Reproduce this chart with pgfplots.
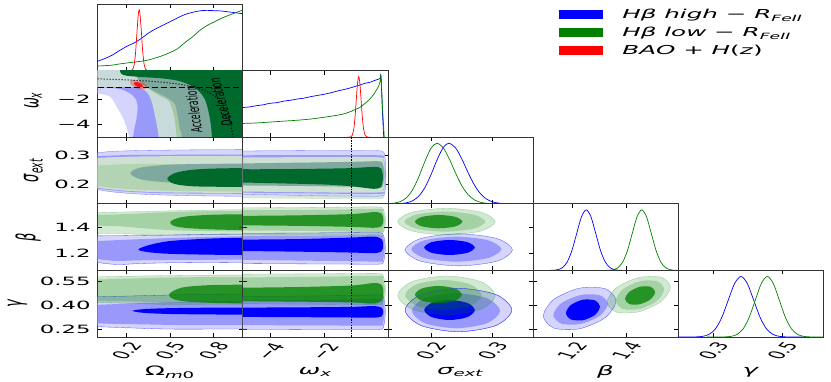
\documentclass[border=0pt]{standalone}
\usepackage{fontspec}
\setmainfont{DejaVu Sans}[ItalicFont={DejaVu Sans Oblique}]
\usepackage{graphicx}
\usepackage{pgfplots}
\pgfplotsset{compat=1.18}
\definecolor{lav}{RGB}{212,212,252}
\definecolor{medb}{RGB}{153,153,252}
\definecolor{bfull}{RGB}{0,0,255}
\definecolor{gbase}{RGB}{0,128,0}
\definecolor{palegb}{RGB}{200,218,218}
\definecolor{palegg}{RGB}{205,224,210}
\definecolor{paleg}{RGB}{178,212,178}
\definecolor{paleg2}{RGB}{212,234,212}
\definecolor{lightg}{RGB}{165,200,165}
\definecolor{tealg}{RGB}{127,168,158}
\definecolor{dkg}{RGB}{0,106,44}
\newcommand\tkf{\fontsize{11.4}{12}\selectfont}
\newcommand\lbf{\fontsize{13}{14}\selectfont\itshape}
\newcommand\lgf{\fontsize{12.3}{14}\selectfont}
\pgfplotsset{
  panel/.style={scale only axis, width=145.05pt, height=66.6pt, anchor=south west,
    axis line style={black!80, line width=0.6pt}, tick align=inside, major tick length=4pt,
    tick style={black, line width=0.5pt}, xticklabels={}, yticklabels={},
    tick label style={font=\tkf}},
  marg/.style={ymin=0, ymax=1.1, ytick=\empty},
  botrow/.style={xticklabel style={xscale=2, rotate=60, anchor=center}, xticklabel shift=14pt},
  leftcol/.style={yticklabel style={xscale=2}},
  xlab/.style={every axis x label/.style={at={(axis description cs:0.5,-0.525)}, anchor=center, xscale=2, font=\lbf}, xlabel={#1}},
  ylab/.style n args={3}{every axis y label/.style={at={(axis description cs:#1,#2)}, anchor=center, xscale=2, rotate=90, font=\lbf}, ylabel={#3}},
  bo/.style={draw=blue!70, line width=0.3pt, fill=lav},
  bm/.style={draw=none, fill=medb},
  bi/.style={draw=none, fill=bfull},
  go/.style={draw=gbase, draw opacity=0.35, line width=0.3pt, fill=gbase, fill opacity=0.18},
  gm/.style={draw=none, fill=gbase, fill opacity=0.21},
  gi/.style={draw=none, fill=gbase, fill opacity=0.77},
  op/.style={draw=none, fill=#1},
  opl/.style={draw=blue!55, line width=0.3pt, fill=#1},
  mb/.style={blue, line width=0.7pt, smooth},
  mg/.style={gbase, line width=0.7pt, smooth},
  mr/.style={red, line width=0.7pt, smooth},
  wline/.style={black, line width=1.7pt, dash pattern=on 1.6pt off 1.1pt},
}
\begin{document}
\begin{tikzpicture}
\path[use as bounding box] (0pt,0pt) rectangle (831pt,382pt);
% ---------------- row 1 : Omega marginal
\begin{axis}[panel, marg, at={(97.7pt,311.4pt)}, xmin=0, xmax=1, xtick={0.2,0.5,0.8},
  legend style={at={(axis description cs:3.147,0.95)}, anchor=north west, draw=none, fill=none,
    inner sep=0pt, row sep=3pt, font=\lgf},
  legend cell align=left,
  legend image code/.code={\draw[#1, line width=9pt] (0pt,0pt) -- (44pt,0pt);}]
\addplot[mb] coordinates {(0,0.155) (0.05,0.20) (0.1,0.255) (0.15,0.33) (0.2,0.40) (0.25,0.455) (0.3,0.53) (0.35,0.62) (0.4,0.69) (0.45,0.75) (0.5,0.81) (0.55,0.87) (0.6,0.925) (0.65,0.96) (0.7,0.985) (0.75,0.995) (0.8,0.99) (0.85,0.985) (0.9,0.97) (0.95,0.955) (1,0.94)};
\addlegendentry{\hspace*{13pt}\scalebox{2}[1]{\textit{Hβ high} − \textit{R}\textsubscript{\textit{FeII}}}}
\addplot[mg] coordinates {(0,0.075) (0.1,0.09) (0.15,0.11) (0.2,0.125) (0.25,0.14) (0.3,0.155) (0.35,0.175) (0.4,0.21) (0.45,0.25) (0.5,0.30) (0.55,0.36) (0.6,0.46) (0.65,0.55) (0.7,0.655) (0.75,0.74) (0.8,0.80) (0.85,0.86) (0.9,0.91) (0.95,0.955) (1,1.0)};
\addlegendentry{\hspace*{13pt}\scalebox{2}[1]{\textit{Hβ low} − \textit{R}\textsubscript{\textit{FeII}}}}
\addplot[mr] coordinates {(0.20,0) (0.22,0.0002) (0.23,0.0022) (0.24,0.016) (0.25,0.0796) (0.26,0.267) (0.27,0.607) (0.28,0.932) (0.286,1) (0.29,0.969) (0.30,0.682) (0.31,0.325) (0.32,0.105) (0.33,0.0228) (0.34,0.0034) (0.35,0) (0.37,0)};
\addlegendentry{\hspace*{13pt}\scalebox{2}[1]{\textit{BAO} + \textit{H}(\textit{z})}}
\end{axis}
% ---------------- row 2
\begin{axis}[panel, leftcol, at={(97.7pt,244.8pt)}, xmin=0, xmax=1, ymin=-5, ymax=0.33,
  xtick={0.2,0.5,0.8}, ytick={-4,-2}, yticklabels={−4,−2}, ylab={-0.446}{0.55}{ω\textsubscript{x}}]
\addplot[op=lav, smooth] coordinates {(-0.3,-1.48) (-0.05,-1.48) (0,-1.5) (0.085,-1.76) (0.13,-2.54) (0.18,-3.6) (0.21,-4.66) (0.226,-5.3) (0.235,-6)} -- (axis cs:1.5,-6) -- (axis cs:1.5,1) -- (axis cs:-0.3,1) -- cycle;
\addplot[op=medb, smooth] coordinates {(-0.3,-1.02) (-0.05,-1.02) (0,-1.02) (0.1,-1.06) (0.17,-1.2) (0.23,-1.55) (0.265,-2.0) (0.275,-2.6) (0.268,-3.5) (0.252,-4.4) (0.24,-5.3) (0.235,-6)} -- (axis cs:1.5,-6) -- (axis cs:1.5,1) -- (axis cs:-0.3,1) -- cycle;
\addplot[op=palegb, smooth] coordinates {(-0.3,-0.98) (0,-0.98) (0.25,-0.98) (0.3,-1.1) (0.34,-1.4) (0.365,-1.9) (0.38,-2.5) (0.395,-3.3) (0.41,-4.2) (0.425,-5.3) (0.43,-6)} -- (axis cs:1.5,-6) -- (axis cs:1.5,1) -- (axis cs:-0.3,1) -- cycle;
\addplot[op=lightg, smooth] coordinates {(0.235,1) (0.24,0.6) (0.27,-0.2) (0.31,-0.75) (0.36,-1.2) (0.43,-1.7) (0.49,-2.1) (0.52,-3.0) (0.535,-4.0) (0.548,-5.3) (0.55,-6)} -- (axis cs:1.5,-6) -- (axis cs:1.5,1) -- cycle;
\addplot[op=tealg, smooth] coordinates {(0.235,1) (0.24,0.6) (0.27,-0.2) (0.31,-0.75) (0.385,-1.28) (0.47,-1.8) (0.53,-2.3) (0.55,-3.2) (0.565,-4.2) (0.59,-5.3) (0.595,-6)} -- (axis cs:1.5,-6) -- (axis cs:1.5,1) -- cycle;
\addplot[op=dkg, smooth] coordinates {(0.148,1) (0.15,0.6) (0.16,0.1) (0.2,-0.08) (0.3,-0.18) (0.45,-0.3) (0.56,-0.5) (0.64,-0.85) (0.7,-1.35) (0.74,-2.0) (0.765,-3.0) (0.78,-4.0) (0.79,-5.3) (0.792,-6)} -- (axis cs:1.5,-6) -- (axis cs:1.5,1) -- cycle;
\addplot[draw=none, fill=red, fill opacity=0.3, smooth cycle] coordinates {(0.340,-1.046) (0.316,-1.187) (0.272,-1.101) (0.233,-0.838) (0.222,-0.554) (0.246,-0.413) (0.290,-0.499) (0.329,-0.762)};
\addplot[draw=none, fill=red, fill opacity=0.85, smooth cycle] coordinates {(0.313,-0.935) (0.300,-1.013) (0.276,-0.966) (0.255,-0.821) (0.249,-0.665) (0.262,-0.587) (0.286,-0.634) (0.307,-0.779)};
\addplot[black, line width=0.9pt, dash pattern=on 6pt off 3pt] coordinates {(0,-1) (1,-1)};
\addplot[black, dotted, line width=1pt, smooth] coordinates {(0,-0.333) (0.1,-0.370) (0.2,-0.417) (0.3,-0.476) (0.4,-0.556) (0.5,-0.667) (0.55,-0.741) (0.6,-0.833) (0.65,-0.952) (0.7,-1.111) (0.75,-1.333) (0.8,-1.667) (0.83,-1.961) (0.86,-2.381) (0.88,-2.778) (0.9,-3.333) (0.91,-3.704) (0.92,-4.167) (0.93,-4.762) (0.935,-5.128)};
\node[font=\fontsize{7.5}{8}\selectfont, xscale=2, rotate=94] at (axis cs:0.66,-2.8) {Acceleration};
\node[font=\fontsize{7.5}{8}\selectfont, xscale=2, rotate=98] at (axis cs:0.847,-2.2) {Deceleration};
\end{axis}
\begin{axis}[panel, marg, at={(242.75pt,244.8pt)}, xmin=-5, xmax=0.33, xtick={-4,-2}]
\addplot[mb] coordinates {(-5,0.49) (-4.75,0.50) (-4.5,0.52) (-4.25,0.535) (-4,0.56) (-3.75,0.57) (-3.5,0.595) (-3.25,0.61) (-3,0.63) (-2.75,0.645) (-2.5,0.67) (-2.25,0.69) (-2,0.71) (-1.75,0.735) (-1.5,0.765) (-1.25,0.79) (-1,0.82) (-0.75,0.855) (-0.5,0.89) (-0.3,0.91) (-0.2,0.93) (-0.1,0.945) (0,0.96) (0.05,0.975) (0.08,1.0) (0.13,0.45) (0.18,0)};
\addplot[mg] coordinates {(-5,0.227) (-4.5,0.235) (-4,0.25) (-3.5,0.265) (-3,0.28) (-2.5,0.30) (-2,0.33) (-1.5,0.365) (-1.25,0.39) (-1,0.43) (-0.85,0.46) (-0.7,0.49) (-0.5,0.56) (-0.35,0.62) (-0.2,0.70) (-0.1,0.77) (0,0.85) (0.05,0.92) (0.08,1.0) (0.14,0.45) (0.2,0)};
\addplot[mr] coordinates {(-1.2,0) (-1.10,0.0003) (-1.04,0.0039) (-0.98,0.0286) (-0.92,0.1353) (-0.875,0.3247) (-0.83,0.6065) (-0.785,0.8825) (-0.74,1) (-0.695,0.8825) (-0.65,0.6065) (-0.605,0.3247) (-0.56,0.1353) (-0.50,0.0286) (-0.44,0.0039) (-0.38,0.0003) (-0.3,0)};
\end{axis}
% ---------------- row 3
\begin{axis}[panel, leftcol, at={(97.7pt,178.2pt)}, xmin=0, xmax=1, ymin=0.13, ymax=0.365,
  xtick={0.2,0.5,0.8}, ytick={0.2,0.3}, yticklabels={0.2,0.3}, ylab={-0.443}{0.5}{σ\textsubscript{ext}}]
\addplot[opl=lav, smooth] coordinates {(-0.3,0.306) (-0.1,0.308) (0,0.31) (0.1,0.315) (0.3,0.318) (0.6,0.32) (0.9,0.321) (1.15,0.321) (1.4,0.321) (1.4,0.156) (1.15,0.156) (0.9,0.157) (0.6,0.159) (0.3,0.164) (0.1,0.172) (0,0.18) (-0.1,0.184) (-0.3,0.186)} -- cycle;
\addplot[op=medb, smooth] coordinates {(-0.3,0.294) (-0.1,0.296) (0,0.298) (0.2,0.302) (0.5,0.303) (1.15,0.304) (1.4,0.304) (1.4,0.165) (1.15,0.165) (0.5,0.167) (0.2,0.173) (0,0.183) (-0.1,0.186) (-0.3,0.188)} -- cycle;
\addplot[op=palegg, smooth] coordinates {(-0.3,0.288) (-0.1,0.29) (0,0.292) (0.2,0.296) (0.5,0.298) (1.15,0.299) (1.4,0.299) (1.4,0.168) (1.15,0.168) (0.5,0.17) (0.2,0.176) (0,0.186) (-0.1,0.188) (-0.3,0.19)} -- cycle;
\addplot[op=paleg, smooth] coordinates {(-0.3,0.265) (-0.1,0.265) (0,0.265) (0.2,0.27) (0.5,0.27) (1.15,0.265) (1.4,0.265) (1.4,0.172) (1.15,0.172) (0.5,0.176) (0.2,0.182) (0,0.192) (-0.1,0.193) (-0.3,0.193)} -- cycle;
\addplot[op=tealg, smooth] coordinates {(1.4,0.272) (1.15,0.272) (0.8,0.271) (0.5,0.268) (0.32,0.26) (0.25,0.25) (0.225,0.238) (0.25,0.226) (0.32,0.214) (0.5,0.205) (0.8,0.2) (1.15,0.198) (1.4,0.198)} -- cycle;
\addplot[op=dkg, smooth] coordinates {(1.4,0.256) (1.15,0.256) (0.85,0.255) (0.65,0.25) (0.53,0.238) (0.48,0.218) (0.53,0.2) (0.65,0.192) (0.85,0.19) (1.15,0.19) (1.4,0.19)} -- cycle;
\end{axis}
\begin{axis}[panel, at={(242.75pt,178.2pt)}, xmin=-5, xmax=0.33, ymin=0.13, ymax=0.365, xtick={-4,-2}, ytick={0.2,0.3}]
\addplot[op=paleg2, smooth] coordinates {(-6,0.30) (-5.5,0.30) (-3,0.30) (-1,0.30) (0,0.298) (0.2,0.285) (0.27,0.22) (0.2,0.155) (0,0.147) (-1,0.147) (-3,0.148) (-5.5,0.15) (-6,0.15)} -- cycle;
\addplot[opl=lav, smooth] coordinates {(-6,0.316) (-5.5,0.316) (-4,0.317) (-2,0.318) (-0.5,0.318) (0.1,0.316) (0.22,0.30) (0.25,0.235) (0.22,0.17) (0.1,0.158) (-0.5,0.157) (-2,0.158) (-4,0.162) (-5.5,0.165) (-6,0.165)} -- cycle;
\addplot[op=medb, smooth] coordinates {(-6,0.301) (-5.5,0.301) (-2,0.302) (0,0.301) (0.18,0.29) (0.22,0.235) (0.18,0.175) (0,0.165) (-2,0.166) (-5.5,0.17) (-6,0.17)} -- cycle;
\addplot[op=palegg, smooth] coordinates {(-6,0.293) (-5.5,0.293) (-2,0.295) (0,0.294) (0.17,0.283) (0.21,0.235) (0.17,0.18) (0,0.17) (-2,0.17) (-5.5,0.174) (-6,0.174)} -- cycle;
\addplot[op=tealg, smooth] coordinates {(-6,0.272) (-5.5,0.272) (-3,0.275) (-1,0.278) (0,0.28) (0.15,0.27) (0.2,0.235) (0.15,0.195) (0,0.186) (-1,0.19) (-3,0.193) (-5.5,0.195) (-6,0.195)} -- cycle;
\addplot[op=dkg, smooth] coordinates {(-6,0.252) (-5.5,0.252) (-4,0.252) (-2,0.254) (-1,0.256) (-0.2,0.26) (0.08,0.255) (0.15,0.225) (0.08,0.19) (-0.2,0.183) (-1,0.192) (-2,0.198) (-4,0.203) (-5.5,0.206) (-6,0.206)} -- cycle;
\addplot[wline] coordinates {(-1,0.13) (-1,0.365)};
\end{axis}
\begin{axis}[panel, marg, at={(387.8pt,178.2pt)}, xmin=0.13, xmax=0.365, xtick={0.2,0.3}]
\addplot[mb] coordinates {(0.13,0) (0.14,0.001) (0.15,0.0044) (0.16,0.016) (0.17,0.049) (0.18,0.125) (0.19,0.267) (0.20,0.482) (0.21,0.731) (0.22,0.932) (0.229,1) (0.24,0.920) (0.25,0.739) (0.26,0.517) (0.27,0.316) (0.28,0.168) (0.29,0.078) (0.30,0.031) (0.31,0.011) (0.32,0.0034) (0.34,0) (0.365,0)};
\addplot[mg] coordinates {(0.13,0.0026) (0.14,0.0104) (0.15,0.035) (0.16,0.0987) (0.17,0.229) (0.18,0.439) (0.19,0.698) (0.20,0.918) (0.2095,1) (0.22,0.922) (0.23,0.733) (0.24,0.503) (0.25,0.297) (0.26,0.152) (0.27,0.0667) (0.28,0.0253) (0.29,0.0083) (0.30,0.0023) (0.32,0) (0.365,0)};
\end{axis}
% ---------------- row 4
\begin{axis}[panel, leftcol, at={(97.7pt,111.6pt)}, xmin=0, xmax=1, ymin=1.066, ymax=1.585,
  xtick={0.2,0.5,0.8}, ytick={1.2,1.4}, yticklabels={1.2,1.4}, ylab={-0.48}{0.5}{β}]
\addplot[bo, smooth] coordinates {(-0.3,1.334) (-0.1,1.334) (0.2,1.337) (0.5,1.342) (0.8,1.348) (1.15,1.35) (1.4,1.35) (1.4,1.13) (1.15,1.13) (0.8,1.128) (0.5,1.125) (0.3,1.12) (0.15,1.112) (0.05,1.12) (-0.1,1.14) (-0.3,1.15)} -- cycle;
\addplot[bm, smooth] coordinates {(-0.3,1.29) (-0.1,1.29) (0.2,1.305) (0.5,1.318) (0.8,1.328) (1.15,1.335) (1.4,1.335) (1.4,1.15) (1.15,1.15) (0.6,1.148) (0.3,1.145) (0.12,1.14) (0,1.155) (-0.1,1.17) (-0.3,1.18)} -- cycle;
\addplot[bi, smooth] coordinates {(1.4,1.322) (1.15,1.322) (0.8,1.315) (0.5,1.295) (0.35,1.262) (0.28,1.228) (0.35,1.208) (0.5,1.195) (0.8,1.188) (1.15,1.185) (1.4,1.185)} -- cycle;
\addplot[go, smooth] coordinates {(-0.3,1.515) (-0.1,1.515) (0.2,1.522) (0.5,1.53) (0.8,1.537) (1.15,1.54) (1.4,1.54) (1.4,1.345) (1.15,1.345) (0.8,1.343) (0.5,1.34) (0.3,1.345) (0.2,1.352) (0.1,1.355) (-0.1,1.35) (-0.3,1.35)} -- cycle;
\addplot[gm, smooth] coordinates {(-0.3,1.495) (-0.1,1.495) (0.2,1.505) (0.5,1.52) (0.8,1.528) (1.15,1.532) (1.4,1.532) (1.4,1.37) (1.15,1.37) (0.8,1.372) (0.5,1.38) (0.3,1.395) (0.15,1.41) (-0.1,1.417) (-0.3,1.417)} -- cycle;
\addplot[gi, smooth] coordinates {(1.4,1.505) (1.15,1.505) (0.8,1.5) (0.6,1.485) (0.52,1.46) (0.5,1.44) (0.52,1.415) (0.6,1.398) (0.8,1.385) (1.15,1.378) (1.4,1.378)} -- cycle;
\end{axis}
\begin{axis}[panel, at={(242.75pt,111.6pt)}, xmin=-5, xmax=0.33, ymin=1.066, ymax=1.585, xtick={-4,-2}, ytick={1.2,1.4}]
\addplot[bo, smooth] coordinates {(-6,1.355) (-5.5,1.355) (-3,1.357) (-1,1.36) (0,1.36) (0.17,1.34) (0.24,1.24) (0.17,1.13) (0,1.115) (-1,1.115) (-3,1.117) (-5.5,1.12) (-6,1.12)} -- cycle;
\addplot[bm, smooth] coordinates {(-6,1.335) (-5.5,1.335) (-2,1.338) (0,1.342) (0.15,1.33) (0.21,1.24) (0.15,1.145) (0,1.135) (-2,1.14) (-5.5,1.15) (-6,1.15)} -- cycle;
\addplot[bi, smooth] coordinates {(-6,1.305) (-5.5,1.305) (-3,1.31) (-1,1.322) (-0.2,1.33) (0.1,1.31) (0.16,1.265) (0.1,1.215) (-0.2,1.2) (-1,1.205) (-3,1.212) (-5.5,1.218) (-6,1.218)} -- cycle;
\addplot[go, smooth] coordinates {(-6,1.553) (-5.5,1.553) (-3,1.556) (-1,1.56) (0,1.56) (0.17,1.54) (0.25,1.45) (0.17,1.365) (0,1.345) (-1,1.342) (-3,1.342) (-5.5,1.342) (-6,1.342)} -- cycle;
\addplot[gm, smooth] coordinates {(-6,1.535) (-5.5,1.535) (-2,1.538) (0,1.545) (0.15,1.53) (0.22,1.45) (0.15,1.38) (0,1.365) (-2,1.372) (-5.5,1.378) (-6,1.378)} -- cycle;
\addplot[gi, smooth] coordinates {(-6,1.49) (-5.5,1.49) (-3,1.495) (-1,1.505) (-0.2,1.52) (0.1,1.51) (0.17,1.46) (0.1,1.41) (-0.2,1.398) (-1,1.405) (-3,1.413) (-5.5,1.418) (-6,1.418)} -- cycle;
\addplot[wline] coordinates {(-1,1.066) (-1,1.585)};
\end{axis}
\begin{axis}[panel, at={(387.8pt,111.6pt)}, xmin=0.13, xmax=0.365, ymin=1.066, ymax=1.585, xtick={0.2,0.3}, ytick={1.2,1.4}]
\addplot[bo, smooth cycle] coordinates {(0.332,1.226) (0.30651,1.31438) (0.245,1.351) (0.18349,1.31438) (0.158,1.226) (0.18349,1.13762) (0.245,1.101) (0.30651,1.13762)};
\addplot[bm, smooth cycle] coordinates {(0.314,1.2315) (0.29261,1.30043) (0.241,1.329) (0.18939,1.30043) (0.168,1.2315) (0.18939,1.16257) (0.241,1.134) (0.29261,1.16257)};
\addplot[bi, smooth cycle] coordinates {(0.271,1.2445) (0.25899,1.28586) (0.23,1.303) (0.20101,1.28586) (0.189,1.2445) (0.20101,1.20314) (0.23,1.186) (0.25899,1.20314)};
\addplot[go, smooth cycle] coordinates {(0.304,1.446) (0.28085,1.51953) (0.225,1.55) (0.16915,1.51953) (0.146,1.446) (0.16915,1.37247) (0.225,1.342) (0.28085,1.37247)};
\addplot[gm, smooth cycle] coordinates {(0.288,1.446) (0.26881,1.50115) (0.2225,1.524) (0.17619,1.50115) (0.157,1.446) (0.17619,1.39085) (0.2225,1.368) (0.26881,1.39085)};
\addplot[gi, smooth cycle] coordinates {(0.251,1.446) (0.23972,1.48276) (0.2125,1.498) (0.18528,1.48276) (0.174,1.446) (0.18528,1.40924) (0.2125,1.394) (0.23972,1.40924)};
\end{axis}
\begin{axis}[panel, marg, at={(532.85pt,111.6pt)}, xmin=1.057, xmax=1.587, xtick={1.2,1.4}]
\addplot[mb] coordinates {(1.057,0) (1.112,0.0003) (1.1295,0.0022) (1.147,0.0111) (1.1645,0.0439) (1.182,0.1353) (1.1995,0.3247) (1.217,0.6065) (1.2345,0.8825) (1.252,1) (1.2695,0.8825) (1.287,0.6065) (1.3045,0.3247) (1.322,0.1353) (1.3395,0.0439) (1.357,0.0111) (1.3745,0.0022) (1.392,0.0003) (1.5,0)};
\addplot[mg] coordinates {(1.30,0) (1.315,0.0003) (1.3325,0.0022) (1.35,0.0111) (1.3675,0.0439) (1.385,0.1353) (1.4025,0.3247) (1.42,0.6065) (1.4375,0.8825) (1.455,1) (1.4725,0.8825) (1.49,0.6065) (1.5075,0.3247) (1.525,0.1353) (1.5425,0.0439) (1.56,0.0111) (1.5775,0.0022) (1.595,0.0003)};
\end{axis}
% ---------------- row 5
\begin{axis}[panel, leftcol, botrow, at={(97.7pt,45pt)}, xmin=0, xmax=1, ymin=0.2, ymax=0.62,
  xtick={0.2,0.5,0.8}, xticklabels={0.2,0.5,0.8}, ytick={0.25,0.40,0.55}, yticklabels={0.25,0.40,0.55},
  ylab={-0.553}{0.5}{γ}, xlab={{\upshape Ω}\textsubscript{m\upshape 0}}]
\addplot[bo, smooth] coordinates {(-0.3,0.452) (-0.1,0.452) (0.2,0.458) (0.5,0.465) (0.8,0.47) (1.15,0.472) (1.4,0.472) (1.4,0.252) (1.15,0.252) (0.8,0.25) (0.5,0.25) (0.3,0.255) (0.15,0.26) (0,0.265) (-0.1,0.27) (-0.3,0.272)} -- cycle;
\addplot[bm, smooth] coordinates {(-0.3,0.40) (-0.1,0.40) (0.2,0.41) (0.5,0.42) (0.8,0.425) (1.15,0.428) (1.4,0.428) (1.4,0.275) (1.15,0.275) (0.6,0.275) (0.3,0.28) (0.1,0.283) (-0.1,0.29) (-0.3,0.292)} -- cycle;
\addplot[bi, smooth] coordinates {(1.4,0.385) (1.15,0.385) (0.8,0.385) (0.5,0.382) (0.32,0.376) (0.24,0.365) (0.32,0.352) (0.5,0.345) (0.8,0.342) (1.15,0.34) (1.4,0.34)} -- cycle;
\addplot[go, smooth] coordinates {(-0.3,0.578) (-0.1,0.578) (0.2,0.583) (0.5,0.588) (0.8,0.59) (1.15,0.59) (1.4,0.59) (1.4,0.405) (1.15,0.405) (0.8,0.405) (0.5,0.405) (0.3,0.41) (0.1,0.415) (-0.1,0.42) (-0.3,0.42)} -- cycle;
\addplot[gm, smooth] coordinates {(-0.3,0.56) (-0.1,0.56) (0.2,0.568) (0.5,0.575) (0.8,0.578) (1.15,0.578) (1.4,0.578) (1.4,0.415) (1.15,0.415) (0.5,0.418) (0.2,0.425) (-0.1,0.43) (-0.3,0.43)} -- cycle;
\addplot[gi, smooth] coordinates {(1.4,0.53) (1.15,0.53) (0.8,0.528) (0.6,0.515) (0.52,0.49) (0.49,0.465) (0.52,0.44) (0.6,0.425) (0.8,0.415) (1.15,0.41) (1.4,0.41)} -- cycle;
\end{axis}
\begin{axis}[panel, botrow, at={(242.75pt,45pt)}, xmin=-5, xmax=0.33, ymin=0.2, ymax=0.62,
  xtick={-4,-2}, xticklabels={−4,−2}, ytick={0.25,0.40,0.55}, xlab={ω\textsubscript{x}}]
\addplot[bo, smooth] coordinates {(-6,0.455) (-5.5,0.455) (-3,0.458) (-1,0.462) (0,0.465) (0.17,0.45) (0.24,0.36) (0.17,0.262) (0,0.248) (-1,0.247) (-3,0.248) (-5.5,0.25) (-6,0.25)} -- cycle;
\addplot[bm, smooth] coordinates {(-6,0.43) (-5.5,0.43) (-2,0.435) (0,0.44) (0.15,0.425) (0.21,0.36) (0.15,0.285) (0,0.272) (-2,0.273) (-5.5,0.275) (-6,0.275)} -- cycle;
\addplot[bi, smooth] coordinates {(-6,0.385) (-5.5,0.385) (-3,0.387) (-1,0.39) (-0.2,0.395) (0.1,0.385) (0.16,0.36) (0.1,0.33) (-0.2,0.322) (-1,0.323) (-3,0.325) (-5.5,0.327) (-6,0.327)} -- cycle;
\addplot[go, smooth] coordinates {(-6,0.596) (-5.5,0.596) (-3,0.598) (-1,0.6) (0,0.6) (0.17,0.58) (0.25,0.5) (0.17,0.42) (0,0.405) (-1,0.405) (-3,0.407) (-5.5,0.41) (-6,0.41)} -- cycle;
\addplot[gm, smooth] coordinates {(-6,0.575) (-5.5,0.575) (-2,0.58) (0,0.585) (0.15,0.57) (0.22,0.5) (0.15,0.43) (0,0.418) (-2,0.42) (-5.5,0.425) (-6,0.425)} -- cycle;
\addplot[gi, smooth] coordinates {(-6,0.51) (-5.5,0.51) (-3,0.515) (-1,0.525) (-0.2,0.54) (0.1,0.53) (0.17,0.48) (0.1,0.43) (-0.2,0.41) (-1,0.418) (-3,0.423) (-5.5,0.427) (-6,0.427)} -- cycle;
\addplot[wline] coordinates {(-1,0.2) (-1,0.62)};
\end{axis}
\begin{axis}[panel, botrow, at={(387.8pt,45pt)}, xmin=0.13, xmax=0.365, ymin=0.2, ymax=0.62,
  xtick={0.2,0.3}, xticklabels={0.2,0.3}, ytick={0.25,0.40,0.55}, xlab={σ\textsubscript{ext}}]
\addplot[bo, smooth cycle] coordinates {(0.331,0.37) (0.30566,0.46686) (0.2445,0.507) (0.18334,0.46686) (0.158,0.37) (0.18334,0.27314) (0.2445,0.233) (0.30566,0.27314)};
\addplot[bm, smooth cycle] coordinates {(0.312,0.3655) (0.29105,0.44362) (0.2405,0.476) (0.18995,0.44362) (0.169,0.3655) (0.18995,0.28738) (0.2405,0.255) (0.29105,0.28738)};
\addplot[bi, smooth cycle] coordinates {(0.271,0.37) (0.25899,0.41454) (0.23,0.433) (0.20101,0.41454) (0.189,0.37) (0.20101,0.32546) (0.23,0.307) (0.25899,0.32546)};
\addplot[go, smooth cycle] coordinates {(0.304,0.462) (0.28085,0.54896) (0.225,0.585) (0.16915,0.54896) (0.146,0.462) (0.16915,0.37504) (0.225,0.339) (0.28085,0.37504)};
\addplot[gm, smooth cycle] coordinates {(0.282,0.4645) (0.26383,0.53167) (0.22,0.5595) (0.17617,0.53167) (0.158,0.4645) (0.17617,0.39733) (0.22,0.3695) (0.26383,0.39733)};
\addplot[gi, smooth cycle] coordinates {(0.25,0.4675) (0.23887,0.50603) (0.212,0.522) (0.18513,0.50603) (0.174,0.4675) (0.18513,0.42897) (0.212,0.413) (0.23887,0.42897)};
\addplot[draw=blue!70, line width=0.3pt, smooth cycle] coordinates {(0.331,0.37) (0.30566,0.46686) (0.2445,0.507) (0.18334,0.46686) (0.158,0.37) (0.18334,0.27314) (0.2445,0.233) (0.30566,0.27314)};
\end{axis}
\begin{axis}[panel, botrow, at={(532.85pt,45pt)}, xmin=1.057, xmax=1.587, ymin=0.2, ymax=0.62,
  xtick={1.2,1.4}, xticklabels={1.2,1.4}, ytick={0.25,0.40,0.55}, xlab={β}]
\addplot[bo, smooth cycle] coordinates {(1.361,0.427) (1.32203,0.50373) (1.228,0.508) (1.13397,0.43727) (1.095,0.333) (1.13397,0.25627) (1.228,0.252) (1.32203,0.32273)};
\addplot[bm, smooth cycle] coordinates {(1.331,0.4085) (1.30185,0.46259) (1.2315,0.4645) (1.16115,0.41309) (1.132,0.3385) (1.16115,0.28441) (1.2315,0.2825) (1.30185,0.33391)};
\addplot[bi, smooth cycle] coordinates {(1.302,0.3905) (1.28383,0.43024) (1.24,0.435) (1.19617,0.40196) (1.178,0.3505) (1.19617,0.31076) (1.24,0.306) (1.28383,0.33904)};
\addplot[go, smooth cycle] coordinates {(1.56,0.5145) (1.52601,0.57694) (1.444,0.575) (1.36199,0.50978) (1.328,0.4195) (1.36199,0.35706) (1.444,0.359) (1.52601,0.42422)};
\addplot[gm, smooth cycle] coordinates {(1.537,0.5005) (1.51107,0.55174) (1.4485,0.5519) (1.38593,0.50084) (1.36,0.4285) (1.38593,0.37726) (1.4485,0.3771) (1.51107,0.42816)};
\addplot[gi, smooth cycle] coordinates {(1.504,0.484) (1.48789,0.51644) (1.449,0.517) (1.41011,0.48534) (1.394,0.44) (1.41011,0.40756) (1.449,0.407) (1.48789,0.43866)};
\end{axis}
\begin{axis}[panel, marg, botrow, at={(677.9pt,45pt)}, xmin=0.197, xmax=0.618,
  xtick={0.3,0.5}, xticklabels={0.3,0.5}, xlab={γ}]
\addplot[mb] coordinates {(0.197,0) (0.232,0.0003) (0.2505,0.0022) (0.269,0.0111) (0.2875,0.0439) (0.306,0.1353) (0.3245,0.3247) (0.343,0.6065) (0.3615,0.8825) (0.38,1) (0.3985,0.8825) (0.417,0.6065) (0.4355,0.3247) (0.454,0.1353) (0.4725,0.0439) (0.491,0.0111) (0.5095,0.0022) (0.528,0.0003) (0.56,0)};
\addplot[mg] coordinates {(0.28,0) (0.3165,0.0003) (0.334,0.0022) (0.3515,0.0111) (0.369,0.0439) (0.3865,0.1353) (0.404,0.3247) (0.4215,0.6065) (0.439,0.8825) (0.4565,1) (0.474,0.8825) (0.4915,0.6065) (0.509,0.3247) (0.5265,0.1353) (0.544,0.0439) (0.5615,0.0111) (0.579,0.0022) (0.5965,0.0003) (0.618,0)};
\end{axis}
\end{tikzpicture}
\end{document}
